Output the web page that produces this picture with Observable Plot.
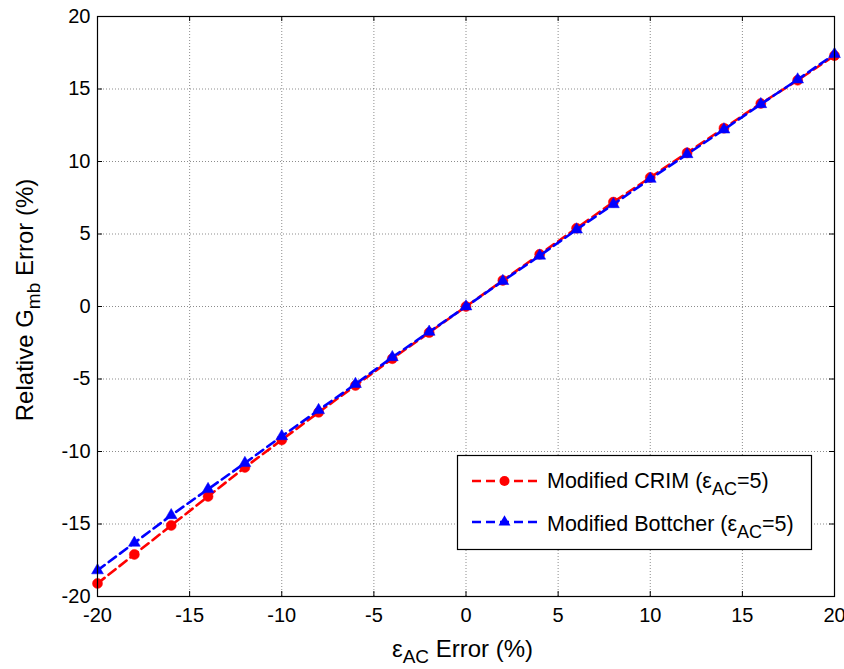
<!DOCTYPE html>
<html>
<head>
<meta charset="utf-8">
<script src="https://cdn.jsdelivr.net/npm/d3@7"></script>
<script src="https://cdn.jsdelivr.net/npm/@observablehq/plot@0.6"></script>
<style>
  html, body { margin: 0; padding: 0; background: #fff; }
  #chart { width: 844px; height: 669px; }
  svg { font-family: "Liberation Sans", Arial, sans-serif; }
</style>
</head>
<body>
<div id="chart"></div>
<script>
// ---- data ----
const errorPct = [-20, -18, -16, -14, -12, -10, -8, -6, -4, -2, 0, 2, 4, 6, 8, 10, 12, 14, 16, 18, 20];
const crimValues = [-19.1, -17.1, -15.1, -13.1, -11.1, -9.2, -7.3, -5.45, -3.6, -1.8, 0, 1.8, 3.6, 5.4, 7.2, 8.9, 10.6, 12.3, 14.0, 15.6, 17.3];
const bottcherValues = [-18.2, -16.3, -14.4, -12.6, -10.8, -8.95, -7.15, -5.35, -3.5, -1.75, 0, 1.75, 3.5, 5.3, 7.05, 8.8, 10.5, 12.2, 13.95, 15.65, 17.4];
const xTicks = [-20, -15, -10, -5, 0, 5, 10, 15, 20];
const yTicks = [-20, -15, -10, -5, 0, 5, 10, 15, 20];
const seriesNames = ["Modified CRIM (\u03b5", "Modified Bottcher (\u03b5"];

const crim = errorPct.map((x, i) => ({x, y: crimValues[i]}));
const bott = errorPct.map((x, i) => ({x, y: bottcherValues[i]}));

const W = 844, H = 669;
const mL = 97, mR = 10, mT = 16, mB = 73;
const pw = W - mL - mR, ph = H - mT - mB;
const fmt = d => String(d);

const plot = Plot.plot({
  width: W, height: H,
  marginLeft: mL, marginRight: mR, marginTop: mT, marginBottom: mB,
  style: {fontFamily: '"Liberation Sans", Arial, sans-serif', fontSize: "20px", color: "#000", background: "#fff", overflow: "visible"},
  x: {domain: [-20, 20]},
  y: {domain: [-20, 20]},
  marks: [
    Plot.gridX(xTicks, {stroke: "#000", strokeOpacity: 0.45, strokeDasharray: "1,2", strokeWidth: 1}),
    Plot.gridY(yTicks, {stroke: "#000", strokeOpacity: 0.45, strokeDasharray: "1,2", strokeWidth: 1}),
    // inward ticks on all four sides
    Plot.tickX(xTicks, {x: d => d, stroke: "#000", insetTop: ph - 5}),
    Plot.tickX(xTicks, {x: d => d, stroke: "#000", insetBottom: ph - 5}),
    Plot.tickY(yTicks, {y: d => d, stroke: "#000", insetRight: pw - 5}),
    Plot.tickY(yTicks, {y: d => d, stroke: "#000", insetLeft: pw - 5}),
    Plot.axisX(xTicks, {tickSize: 0, tickPadding: 11, tickFormat: fmt, fontSize: 20, label: null}),
    Plot.axisY(yTicks, {tickSize: 0, tickPadding: 7, tickFormat: fmt, fontSize: 20, label: null}),
    Plot.line(crim, {x: "x", y: "y", stroke: "#ff0000", strokeWidth: 2.6, strokeDasharray: "9,5"}),
    Plot.dot(crim, {x: "x", y: "y", symbol: "circle", r: 5, fill: "#ff0000", stroke: "#ff0000", strokeWidth: 0.5}),
    Plot.line(bott, {x: "x", y: "y", stroke: "#0000ff", strokeWidth: 2.6, strokeDasharray: "9,5"}),
    Plot.dot(bott, {x: "x", y: "y", symbol: "triangle", r: 4.4, fill: "#0000ff", stroke: "#0000ff", strokeWidth: 0.5}),
    Plot.frame({stroke: "#000", strokeWidth: 1.2})
  ]
});

document.getElementById("chart").appendChild(plot);
const svg = d3.select(plot);
const xs = plot.scale("x"), ys = plot.scale("y");

// x axis label
const xl = svg.append("text")
  .attr("x", (xs.apply(-20) + xs.apply(20)) / 2 - 3)
  .attr("y", 657)
  .attr("text-anchor", "middle")
  .attr("font-size", 24)
  .attr("fill", "#000");
xl.append("tspan").text("\u03b5");
xl.append("tspan").attr("font-size", 19).attr("dy", 6).text("AC");
xl.append("tspan").attr("dy", -6).text(" Error (%)");

// y axis label
const yl = svg.append("text")
  .attr("transform", `translate(33,${(ys.apply(-20) + ys.apply(20)) / 2 - 6}) rotate(-90)`)
  .attr("text-anchor", "middle")
  .attr("font-size", 24)
  .attr("fill", "#000");
yl.append("tspan").text("Relative G");
yl.append("tspan").attr("font-size", 19).attr("dy", 7).text("mb");
yl.append("tspan").attr("dy", -7).text(" Error (%)");

// legend
const lg = svg.append("g").attr("text-anchor", "start");
lg.append("rect").attr("x", 457.5).attr("y", 455.5).attr("width", 354).attr("height", 94)
  .attr("fill", "#fff").attr("stroke", "#000").attr("stroke-width", 1.2);
const rows = [
  {name: seriesNames[0], color: "#ff0000", sym: d3.symbolCircle, size: Math.PI * 25, y: 481, base: 488},
  {name: seriesNames[1], color: "#0000ff", sym: d3.symbolTriangle, size: Math.PI * 4.4 * 4.4, y: 522, base: 531}
];
rows.forEach(r => {
  lg.append("line").attr("x1", 472).attr("x2", 537).attr("y1", r.y).attr("y2", r.y)
    .attr("stroke", r.color).attr("stroke-width", 2.6).attr("stroke-dasharray", "9,5");
  lg.append("path").attr("d", d3.symbol(r.sym, r.size)()).attr("transform", `translate(504.5,${r.y})`)
    .attr("fill", r.color);
  const t = lg.append("text").attr("x", 547).attr("y", r.base).attr("font-size", 21.5)
    .attr("text-anchor", "start").attr("fill", "#000");
  t.append("tspan").text(r.name);
  t.append("tspan").attr("font-size", 18).attr("dy", 7).text("AC");
  t.append("tspan").attr("dy", -7).text("=5)");
});
</script>
</body>
</html>
